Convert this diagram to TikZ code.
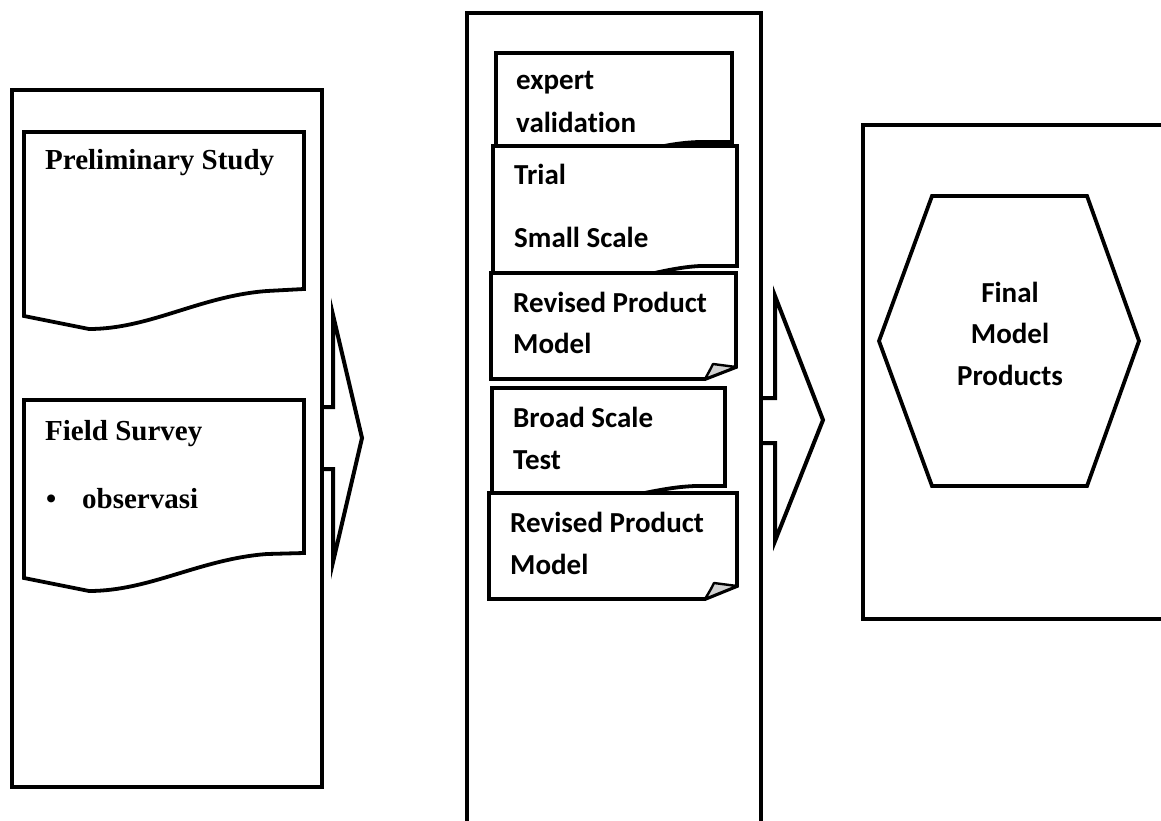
\documentclass[tikz,border=0pt]{standalone}
\usepackage{fontspec}
\setmainfont{Liberation Serif}
\newfontfamily\calfont[Ligatures=NoCommon]{Carlito}
\begin{document}
\begin{tikzpicture}[x=1pt,y=-1pt,
  frame/.style={draw=black,line width=4pt,fill=white},
  docbox/.style={draw=black,line width=3.8pt,fill=white},
  curl/.style={draw=black,line width=2.4pt,fill=gray!35,line join=round},
  serifline/.style={anchor=base west,inner sep=0pt,font=\fontsize{29}{35}\selectfont\bfseries},
  sansline/.style={anchor=base west,inner sep=0pt,font=\calfont\fontsize{29}{35}\selectfont\bfseries},
  sanscentre/.style={anchor=base,inner sep=0pt,font=\calfont\fontsize{29}{35}\selectfont\bfseries}]
\useasboundingbox (0,0) rectangle (1161,821);
\clip (0,0) rectangle (1161,821);

% block arrows between the columns (drawn first, boxes cover the shaft ends)
\draw[frame] (300,407) -- (333,407) -- (333,315) -- (362,438) -- (333,562)
  -- (333,469) -- (300,469) -- cycle;
\draw[frame] (740,398) -- (775,398) -- (775,296) -- (823,420) -- (775,541)
  -- (775,443) -- (740,443) -- cycle;

% left column
\draw[frame] (12,90) rectangle (322,787);
\draw[docbox] (24,132) -- (304,132) -- (304,289) -- (267,291)
  .. controls (200,296) and (150,329) .. (89,329) -- (24,316) -- cycle;
\draw[docbox] (24,400) -- (304,400) -- (304,553) -- (267,554)
  .. controls (200,559) and (150,591) .. (89,591) -- (24,578) -- cycle;
\node[serifline] (prelim) at (45,170) {Preliminary Study};
\node[serifline] (field) at (45,440) {Field Survey};
\node[serifline] (bullet) at (46,508) {•};
\node[serifline] (obs) at (82,508) {observasi};

% middle column
\draw[frame] (467,13) rectangle (761,900);
\draw[docbox] (496,53) -- (732,53) -- (732,142) -- (700,142)
  .. controls (650,143) and (610,165) .. (560,166) -- (496,158) -- cycle;
\draw[docbox] (493,146) -- (737,146) -- (737,266) -- (700,266)
  .. controls (660,268) and (620,285) .. (570,288) -- (493,280) -- cycle;
\draw[docbox] (491,273) -- (736,273) -- (736,367) -- (705,379) -- (491,379) -- cycle;
\draw[curl] (736,367) -- (713,364) .. controls (710,370) .. (705,379) -- cycle;
\draw[docbox] (492,388) -- (725,388) -- (725,486) -- (695,486)
  .. controls (670,487) and (650,492) .. (610,500) -- (492,500) -- cycle;
\draw[docbox] (489,493) -- (737,493) -- (737,586) -- (705,599) -- (489,599) -- cycle;
\draw[curl] (737,586) -- (714,583) .. controls (711,589) .. (705,599) -- cycle;

\node[sansline] (expert) at (516,90) {expert};
\node[sansline] (valid) at (516,133) {validation};
\node[sansline] (trial) at (514,185) {Trial};
\node[sansline] (small) at (514,247) {Small Scale};
\node[sansline] (revA) at (513,312) {Revised Product};
\node[sansline] (modA) at (513,353) {Model};
\node[sansline] (broad) at (513,427) {Broad Scale};
\node[sansline] (test) at (513,469) {Test};
\node[sansline] (revB) at (510,532) {Revised Product};
\node[sansline] (modB) at (510,574) {Model};

% right column
\draw[frame] (863,125) rectangle (1200,619);
\draw[docbox] (932,196) -- (1087,196) -- (1139,341) -- (1087,486) -- (932,486)
  -- (879,341) -- cycle;
\node[sanscentre] (final) at (1010,302) {Final};
\node[sanscentre] (model) at (1010,343) {Model};
\node[sanscentre] (prod) at (1010,385) {Products};
\end{tikzpicture}
\end{document}
